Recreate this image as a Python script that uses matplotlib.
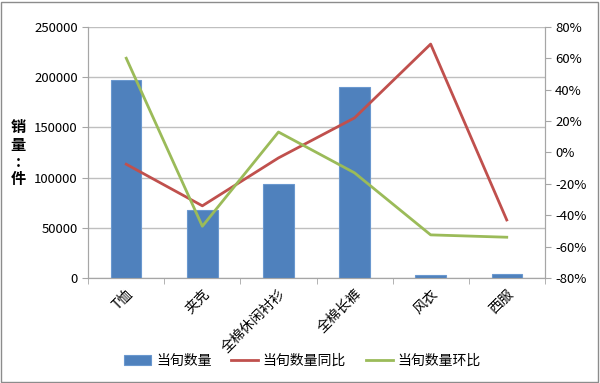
import matplotlib.pyplot as plt
from matplotlib.patches import Rectangle
from matplotlib.ticker import FuncFormatter, FixedLocator
import numpy as np

plt.rcParams['font.family'] = ['Noto Sans CJK SC', 'DejaVu Sans']

categories = ['T恤', '夹克', '全棉休闲衬衫', '全棉长裤', '风衣', '西服']
quantity = [197000, 67500, 93500, 190000, 3000, 4000]
yoy = [-7.5, -34, -3.5, 22, 69, -43]       # 当旬数量同比 %
mom = [60, -47, 13, -13, -52.5, -54]       # 当旬数量环比 %

fig = plt.figure(figsize=(6, 3.83), dpi=100)
ax = fig.add_axes([0.147, 0.274, 0.761, 0.656])
ax2 = ax.twinx()

x = np.arange(len(categories))
bars = ax.bar(x, quantity, width=0.4, color='#4F81BD', edgecolor='#6A98CF',
              linewidth=0.8, label='当旬数量', zorder=3)
l1, = ax2.plot(x, yoy, color='#C0504D', lw=2, label='当旬数量同比')
l2, = ax2.plot(x, mom, color='#9BBB59', lw=2, label='当旬数量环比')

ax.set_xlim(-0.5, len(categories) - 0.5)
ax.set_ylim(0, 250000)
ax.set_yticks(np.arange(0, 250001, 50000))
ax.grid(axis='y', color='#BFBFBF', lw=1, zorder=0)
ax.set_axisbelow(True)

ax2.set_ylim(-80, 80)
ax2.set_yticks(np.arange(-80, 81, 20))
ax2.yaxis.set_major_formatter(FuncFormatter(lambda v, p: f'{v:.0f}%'))

for a in (ax, ax2):
    for s in a.spines.values():
        s.set_color('#A6A6A6')
    a.spines['top'].set_visible(False)
    a.tick_params(colors='#A6A6A6', labelcolor='black', labelsize=9.5, length=4)

ax.set_xticks(x)
ax.set_xticklabels(categories, rotation=45, ha='right', rotation_mode='anchor', fontsize=10)
ax.tick_params(axis='x', length=0, pad=6)
ax.xaxis.set_minor_locator(FixedLocator(np.arange(-0.5, len(categories), 1)))
ax.tick_params(axis='x', which='minor', length=4, colors='#A6A6A6')

fig.text(0.03, 0.6, '销\n量\n:\n件', fontsize=11, fontweight='bold',
         ha='center', va='center', linespacing=1.1)

fig.legend([bars, l1, l2], ['当旬数量', '当旬数量同比', '当旬数量环比'],
           loc='center', bbox_to_anchor=(0.504, 0.058), ncol=3, frameon=False,
           fontsize=10, handlelength=1.95, columnspacing=1.4, handletextpad=0.35)

fig.patches.append(Rectangle((0.002, 0.003), 0.995, 0.993, transform=fig.transFigure,
                             fill=False, edgecolor='#8C8C8C', lw=1))

fig.savefig('out.png', dpi=100)
